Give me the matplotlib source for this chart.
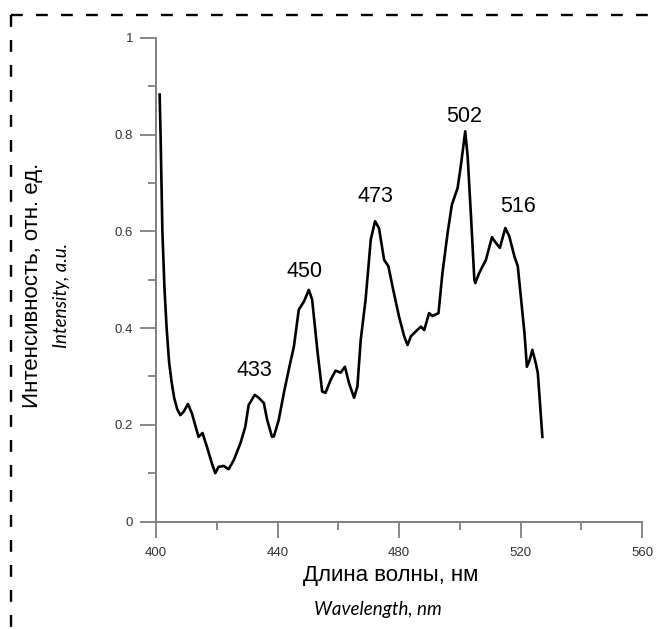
import matplotlib.pyplot as plt
from matplotlib.lines import Line2D
import numpy as np

# spectrum
wavelength = [401.2, 401.5, 402.1, 402.8, 403.5, 404.3, 405.1, 406.0, 407.0, 408.0, 409.1,
              410.5, 411.8, 414.0, 415.3, 416.8, 418.4, 419.5, 420.6, 422.3, 423.9,
              425.6, 427.8, 429.4, 430.5, 432.5, 433.8, 435.5, 436.6, 438.2, 438.8,
              440.4, 442.1, 443.7, 445.4, 447.0, 448.7, 450.3, 451.4, 453.1, 454.7,
              455.8, 457.5, 459.1, 460.8, 462.2, 463.5, 465.2, 466.3, 467.4, 469.0,
              470.7, 472.1, 473.4, 475.1, 476.5, 478.1, 480.0, 481.7, 482.8, 483.9,
              485.5, 487.2, 488.3, 489.9, 491.0, 493.0, 494.3, 496.0, 497.4, 499.3,
              500.4, 501.8, 502.6, 503.7, 504.8, 505.1, 506.4, 508.6, 510.6, 511.9,
              513.2, 515.0, 516.3, 518.0, 519.1, 520.2, 521.3, 522.1, 523.0, 523.9,
              525.0, 525.7, 527.2]
intensity = [0.883, 0.800, 0.600, 0.480, 0.400, 0.330, 0.290, 0.255, 0.232, 0.220, 0.227,
             0.243, 0.224, 0.175, 0.183, 0.154, 0.120, 0.100, 0.113, 0.115, 0.108,
             0.127, 0.162, 0.196, 0.241, 0.262, 0.256, 0.245, 0.210, 0.175, 0.176,
             0.210, 0.266, 0.314, 0.362, 0.438, 0.455, 0.479, 0.459, 0.355, 0.269,
             0.266, 0.293, 0.312, 0.308, 0.320, 0.287, 0.256, 0.279, 0.376, 0.459,
             0.583, 0.621, 0.607, 0.541, 0.528, 0.479, 0.424, 0.383, 0.365, 0.383,
             0.393, 0.403, 0.396, 0.431, 0.425, 0.431, 0.514, 0.597, 0.655, 0.690,
             0.738, 0.807, 0.755, 0.631, 0.500, 0.493, 0.514, 0.541, 0.588, 0.576,
             0.566, 0.607, 0.590, 0.548, 0.528, 0.459, 0.390, 0.320, 0.334, 0.355,
             0.328, 0.307, 0.175]

peak_labels = ["433", "450", "473", "502", "516"]
peak_x = [432.3, 449.0, 472.3, 501.5, 519.1]
peak_y = [0.300, 0.506, 0.660, 0.826, 0.641]

x_ticks = [400, 440, 480, 520, 560]
y_ticks = [0, 0.2, 0.4, 0.6, 0.8, 1]
y_tick_labels = ["0", "0.2", "0.4", "0.6", "0.8", "1"]

plt.rcParams['font.family'] = ['Liberation Sans', 'DejaVu Sans']
plt.rcParams['lines.scale_dashes'] = False

fig = plt.figure(figsize=(6.58, 6.29), dpi=100)
ax = fig.add_axes([0.2371, 0.1709, 0.7386, 0.7687])

ax.plot(wavelength, intensity, color='black', lw=1.9, solid_joinstyle='round')

for lab, px, py in zip(peak_labels, peak_x, peak_y):
    ax.text(px, py, lab, fontsize=15.5, ha='center', va='baseline')

ax.set_xlim(400, 560)
ax.set_ylim(0, 1)
ax.set_xticks(x_ticks)
ax.set_xticks(np.arange(420, 560, 40), minor=True)
ax.set_yticks(y_ticks)
ax.set_yticklabels(y_tick_labels)
ax.set_yticks(np.arange(0.1, 1, 0.2), minor=True)

grey = '#7f7f7f'
for s in ['top', 'right']:
    ax.spines[s].set_visible(False)
for s in ['left', 'bottom']:
    ax.spines[s].set_color(grey)
    ax.spines[s].set_linewidth(1.4)
ax.tick_params(which='major', length=11.5, width=1.3, color=grey, labelsize=9.5,
               labelcolor='#333333', pad=5)
ax.tick_params(axis='x', which='major', pad=7)
ax.tick_params(which='minor', length=6, width=1.3, color=grey)

# axis titles, two lines each (russian + english)
fig.text(0.050, 1 - 285 / 629, "Интенсивность, отн. ед.", rotation=90, fontsize=16,
         ha='center', va='center')
fig.text(0.093, 1 - 295 / 629, "Intensity, a.u.", rotation=90, fontsize=13.5,
         style='italic', family=['Lato', 'DejaVu Sans'], ha='center', va='center')
fig.text(391 / 658, 1 - 581 / 629, "Длина волны, нм", fontsize=16, ha='center',
         va='baseline')
fig.text(378 / 658, 1 - 615 / 629, "Wavelength, nm", fontsize=13.5, style='italic',
         family=['Lato', 'DejaVu Sans'], ha='center', va='baseline')

# dashed frame on top and left edge
fig.add_artist(Line2D([11 / 658, 1], [1 - 15 / 629, 1 - 15 / 629], color='black',
                      lw=1.7, dashes=(8.5, 9.5), transform=fig.transFigure))
fig.add_artist(Line2D([11 / 658, 11 / 658], [1 - 15 / 629, 0], color='black',
                      lw=1.7, dashes=(8.5, 9.5), transform=fig.transFigure))

fig.savefig('out.png', dpi=100)
